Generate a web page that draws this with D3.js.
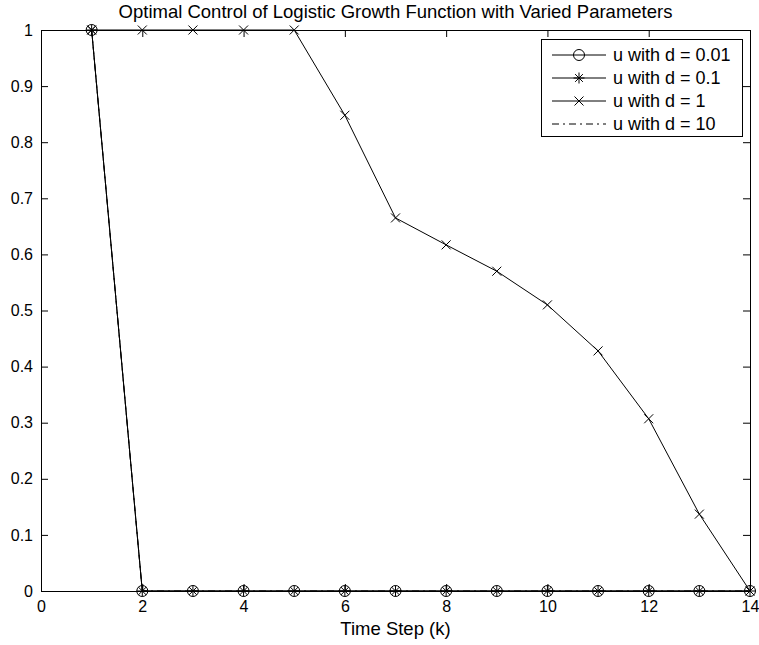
<!DOCTYPE html>
<html>
<head>
<meta charset="utf-8">
<script src="https://cdn.jsdelivr.net/npm/d3@7"></script>
<style>
  body { margin: 0; background: #fff; }
  svg text { font-family: "Liberation Sans", Arial, Helvetica, sans-serif; fill: #000; }
</style>
</head>
<body>
<svg id="chart"></svg>
<script>
// time steps k
const steps = [1, 2, 3, 4, 5, 6, 7, 8, 9, 10, 11, 12, 13, 14];
// control u for each value of d
const uD001 = [1, 0, 0, 0, 0, 0, 0, 0, 0, 0, 0, 0, 0, 0];
const uD01 = [1, 0, 0, 0, 0, 0, 0, 0, 0, 0, 0, 0, 0, 0];
const uD1 = [1, 1, 1, 1, 1, 0.848, 0.665, 0.617, 0.570, 0.510, 0.428, 0.307, 0.137, 0];
const uD10 = [1, 0, 0, 0, 0, 0, 0, 0, 0, 0, 0, 0, 0, 0];
const xTicks = [0, 2, 4, 6, 8, 10, 12, 14];
const yTicks = [0, 0.1, 0.2, 0.3, 0.4, 0.5, 0.6, 0.7, 0.8, 0.9, 1];
const seriesNames = ["u with d = 0.01", "u with d = 0.1", "u with d = 1", "u with d = 10"];

const W = 759, H = 645;
const margin = {top: 30, right: 9, bottom: 54, left: 41};
const width = W - margin.left - margin.right;
const height = H - margin.top - margin.bottom;

const svg = d3.select("#chart").attr("width", W).attr("height", H);
const chart = svg.append("g").attr("transform", `translate(${margin.left},${margin.top})`);

const x = d3.scaleLinear().domain([0, 14]).range([0, width]);
const y = d3.scaleLinear().domain([0, 1]).range([height, 0]);

// axes, matlab style inward ticks on all four sides
const fmt = d => d3.format("~g")(d);
chart.append("g")
    .attr("transform", `translate(0,${height})`)
    .call(d3.axisBottom(x).tickValues(xTicks).tickFormat(fmt).tickSizeInner(-7).tickSizeOuter(0).tickPadding(10))
    .call(g => g.select(".domain").remove());
chart.append("g")
    .call(d3.axisLeft(y).tickValues(yTicks).tickFormat(fmt).tickSizeInner(-7).tickSizeOuter(0).tickPadding(8))
    .call(g => g.select(".domain").remove());
chart.append("g")
    .call(d3.axisTop(x).tickValues(xTicks).tickFormat("").tickSizeInner(-7).tickSizeOuter(0))
    .call(g => g.select(".domain").remove());
chart.append("g")
    .attr("transform", `translate(${width},0)`)
    .call(d3.axisRight(y).tickValues(yTicks).tickFormat("").tickSizeInner(-7).tickSizeOuter(0))
    .call(g => g.select(".domain").remove());

chart.selectAll(".tick line").attr("stroke", "#000");
chart.selectAll(".tick text").attr("font-size", 16).attr("font-family", null);

chart.append("rect")
    .attr("x", 0.5).attr("y", 0.5)
    .attr("width", width).attr("height", height)
    .attr("fill", "none").attr("stroke", "#000");

// title and label
svg.append("text")
    .attr("x", margin.left + width / 2).attr("y", 18)
    .attr("text-anchor", "middle").attr("font-size", 18.5)
    .text("Optimal Control of Logistic Growth Function with Varied Parameters");
svg.append("text")
    .attr("x", margin.left + width / 2).attr("y", 635)
    .attr("text-anchor", "middle").attr("font-size", 18.5)
    .text("Time Step (k)");

// marker drawing
function marker(g, type) {
  if (type === "circle") {
    g.append("circle").attr("r", 5.5).attr("fill", "none").attr("stroke", "#000");
  } else if (type === "star") {
    const r = 5.5, q = r * 0.7071;
    g.append("path")
        .attr("d", `M${-r},0L${r},0M0,${-r}L0,${r}M${-q},${-q}L${q},${q}M${-q},${q}L${q},${-q}`)
        .attr("stroke", "#000").attr("fill", "none");
  } else if (type === "x") {
    const r = 4.5;
    g.append("path")
        .attr("d", `M${-r},${-r}L${r},${r}M${-r},${r}L${r},${-r}`)
        .attr("stroke", "#000").attr("fill", "none");
  }
}

const series = [
  {name: seriesNames[0], values: uD001, marker: "circle", dash: null},
  {name: seriesNames[1], values: uD01, marker: "star", dash: null},
  {name: seriesNames[2], values: uD1, marker: "x", dash: null},
  {name: seriesNames[3], values: uD10, marker: null, dash: "7,4,2,4"}
];

const line = d3.line().x((d, i) => x(steps[i])).y(d => y(d));

// draw in reverse so the first series sits on top
series.slice().reverse().forEach(s => {
  chart.append("path")
      .datum(s.values)
      .attr("d", line)
      .attr("fill", "none")
      .attr("stroke", "#000")
      .attr("stroke-width", 1)
      .attr("stroke-dasharray", s.dash);
  if (s.marker) {
    s.values.forEach((v, i) => {
      const g = chart.append("g").attr("transform", `translate(${x(steps[i])},${y(v)})`);
      marker(g, s.marker);
    });
  }
});

// legend
const legend = svg.append("g").attr("transform", "translate(541,39)");
legend.append("rect")
    .attr("x", 0.5).attr("y", 0.5).attr("width", 201).attr("height", 97)
    .attr("fill", "#fff").attr("stroke", "#000");
series.forEach((s, i) => {
  const row = legend.append("g").attr("transform", `translate(0,${16 + i * 23})`);
  row.append("line")
      .attr("x1", 11).attr("x2", 65)
      .attr("stroke", "#000").attr("stroke-dasharray", s.dash);
  if (s.marker) marker(row.append("g").attr("transform", "translate(38,0)"), s.marker);
  row.append("text")
      .attr("x", 72).attr("dy", "0.36em")
      .attr("font-size", 18)
      .text(s.name);
});
</script>
</body>
</html>
